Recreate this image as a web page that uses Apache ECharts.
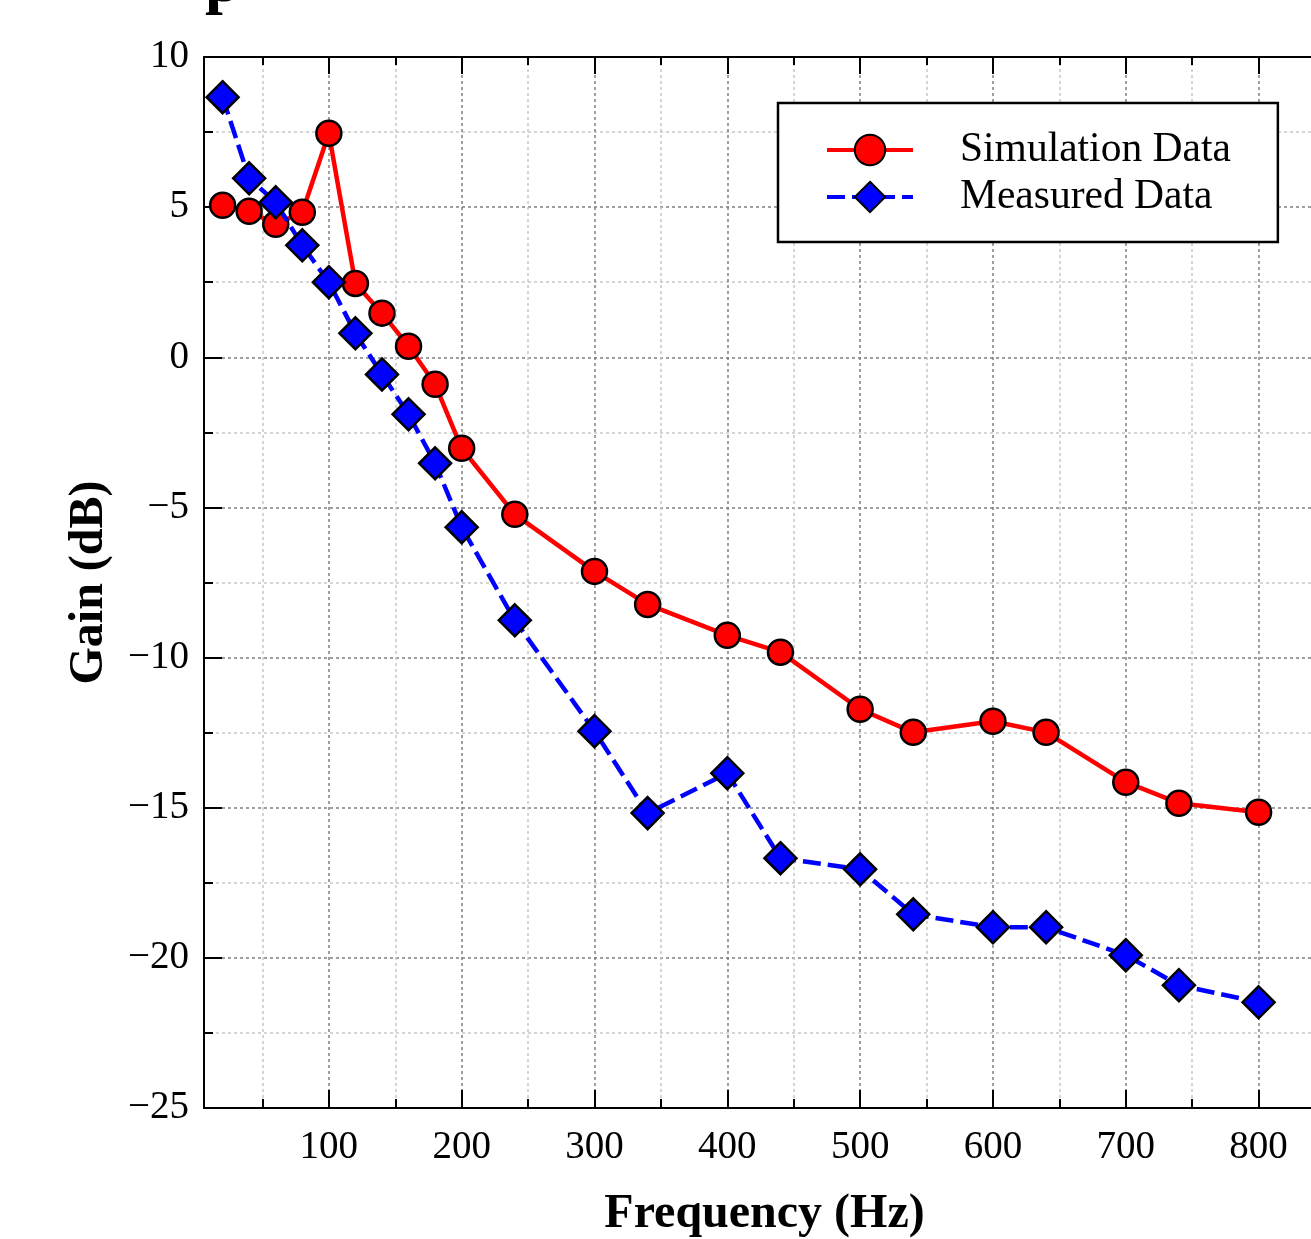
<!doctype html>
<html>
  <head>
    <meta charset="utf-8">
    <title>Gain vs Frequency</title>
    <script src="https://cdn.jsdelivr.net/npm/echarts@6.0.0/dist/echarts.min.js"></script>
    <style>
      html, body { margin: 0; padding: 0; background: #ffffff; }
      #main { width: 1311px; height: 1239px; }
    </style>
  </head>
  <body>
    <div id="main"></div>
    <script type="text/javascript">
      // data
      var freq = [20, 40, 60, 80, 100, 120, 140, 160, 180, 200, 240, 300, 340, 400, 440, 500, 540, 600, 640, 700, 740, 800];
      var simulation = [5.06, 4.86, 4.43, 4.83, 7.46, 2.46, 1.47, 0.37, -0.9, -3.03, -5.23, -7.13, -8.23, -9.26, -9.82, -11.72, -12.49, -12.12, -12.49, -14.15, -14.85, -15.15];
      var measured = [8.66, 5.96, 5.16, 3.73, 2.5, 0.8, -0.57, -1.9, -3.53, -5.66, -8.76, -12.45, -15.18, -13.85, -16.68, -17.05, -18.55, -18.98, -18.98, -19.91, -20.91, -21.48];
      var majorX = [100, 200, 300, 400, 500, 600, 700, 800];
      var minorX = [50, 150, 250, 350, 450, 550, 650, 750];

      var serif = 'Liberation Serif';
      var xMin = 6, xMax = 850;
      // the plot runs past the right edge of the picture
      var gridRect = { left: 204, top: 57, width: 1121, height: 1051, outerBoundsMode: 'none', containLabel: false };

      function pairs(xs, ys) {
        var out = [];
        for (var i = 0; i < xs.length; i++) out.push([xs[i], ys[i]]);
        return out;
      }

      function xAxisFor(grid, pos, ticks, len, isMain) {
        return {
          type: 'value', gridIndex: grid, position: pos,
          min: xMin, max: xMax,
          axisLine: { show: isMain, onZero: false, lineStyle: { color: '#000', width: 2 } },
          axisTick: { show: true, inside: true, length: len, customValues: ticks,
                      lineStyle: { color: '#000', width: 2 } },
          axisLabel: { show: isMain && pos === 'bottom', customValues: ticks, margin: 20,
                       color: '#000', fontSize: 39, fontFamily: serif },
          splitLine: { show: pos === 'bottom', customValues: ticks,
                       lineStyle: { color: len > 10 ? '#808080' : '#c8c8c8', width: 1.5, type: [3, 3] } }
        };
      }

      var xAxes = [
        xAxisFor(0, 'bottom', majorX, 18, true),
        xAxisFor(0, 'top', majorX, 17, true),
        xAxisFor(1, 'bottom', minorX, 9, false),
        xAxisFor(1, 'top', minorX, 8, false)
      ];
      xAxes[0].name = 'Frequency (Hz)';
      xAxes[0].nameLocation = 'middle';
      xAxes[0].nameGap = 83;
      xAxes[0].nameTextStyle = { color: '#000', fontSize: 48, fontWeight: 'bold', fontFamily: serif };

      var chart = echarts.init(document.getElementById('main'));
      chart.setOption({
        animation: false,
        backgroundColor: '#fff',
        grid: [
          Object.assign({}, gridRect),
          Object.assign({}, gridRect)
        ],
        graphic: [{
          type: 'text', left: 205, top: -48, z: 10,
          style: { text: 'p', fontSize: 64, fontWeight: 'bold', fontFamily: serif, fill: '#000' }
        }],
        legend: {
          orient: 'vertical', left: 778, top: 103,
          padding: [26, 47, 24, 47], itemGap: 5,
          itemWidth: 86, itemHeight: 38,
          borderColor: '#000', borderWidth: 2.5, borderRadius: 0,
          backgroundColor: '#fff',
          lineStyle: { width: 4 },
          textStyle: { color: '#000', fontSize: 41.5, fontFamily: serif, padding: [0, 0, 0, 42] },
          data: ['Simulation Data', 'Measured Data']
        },
        xAxis: xAxes,
        yAxis: [{
          type: 'value', gridIndex: 0, min: -25, max: 10, interval: 5,
          name: 'Gain (dB)', nameLocation: 'middle', nameGap: 90,
          nameTextStyle: { color: '#000', fontSize: 48, fontWeight: 'bold', fontFamily: serif },
          axisLine: { show: true, onZero: false, lineStyle: { color: '#000', width: 2 } },
          axisTick: { inside: true, length: 18, lineStyle: { color: '#000', width: 2 } },
          minorTick: { show: true, splitNumber: 2, length: 9, lineStyle: { color: '#000', width: 2 } },
          axisLabel: {
            margin: 15, color: '#000', fontSize: 39, fontFamily: serif,
            formatter: function (v) { return String(v).replace('-', '\u2212'); }
          },
          splitLine: { show: true, lineStyle: { color: '#808080', width: 1.5, type: [3, 3] } },
          minorSplitLine: { show: true, lineStyle: { color: '#c8c8c8', width: 1.5, type: [3, 3] } }
        }, {
          type: 'value', gridIndex: 1, min: -25, max: 10, interval: 5, show: false
        }],
        series: [{
          name: 'Simulation Data', type: 'line', xAxisIndex: 0, yAxisIndex: 0,
          data: pairs(freq, simulation),
          symbol: 'circle', symbolSize: 25,
          lineStyle: { color: '#ff0000', width: 4.5 },
          itemStyle: { color: '#ff0000', borderColor: '#000', borderWidth: 2.5 },
          z: 3
        }, {
          name: 'Measured Data', type: 'line', xAxisIndex: 0, yAxisIndex: 0,
          data: pairs(freq, measured),
          symbol: 'diamond', symbolSize: 32,
          lineStyle: { color: '#0000ff', width: 4.5, type: [18, 7] },
          itemStyle: { color: '#0000ff', borderColor: '#000', borderWidth: 2.5 },
          z: 4
        }]
      });
    </script>
  </body>
</html>
